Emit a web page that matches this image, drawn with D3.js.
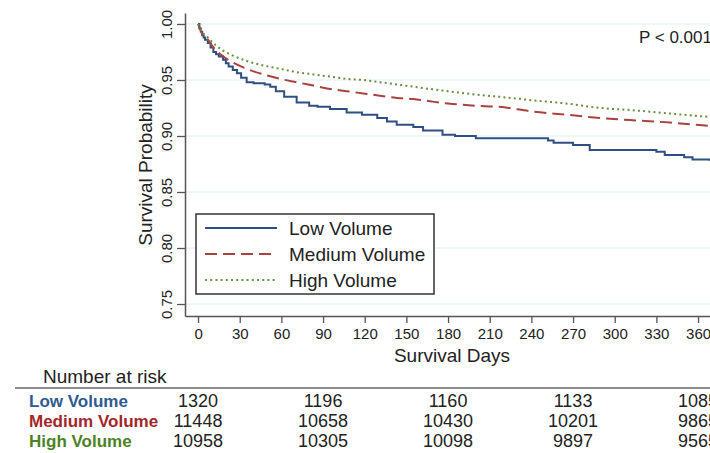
<!DOCTYPE html>
<html>
<head>
<meta charset="utf-8">
<script src="https://cdn.jsdelivr.net/npm/d3@7"></script>
<style>
  body { margin: 0; background: #fff; }
  svg text { font-family: "Liberation Sans", Arial, sans-serif; }
</style>
</head>
<body>
<svg id="chart" width="710" height="453"></svg>
<script>
// survival curves
const lowDays  = [0, 1, 2, 3, 4, 5, 7, 9, 11, 13, 15, 18, 20, 22, 25, 28, 31, 35, 40, 48, 52, 56, 62, 71, 80, 86, 95, 107, 118, 129, 136, 143, 155, 162, 176, 185, 200, 248, 252, 256, 270, 282, 330, 336, 350, 356, 368]
const lowSurv  = [1, 0.996, 0.993, 0.990, 0.988, 0.986, 0.983, 0.979, 0.975, 0.973, 0.971, 0.968, 0.965, 0.962, 0.959, 0.956, 0.952, 0.948, 0.947, 0.946, 0.944, 0.940, 0.935, 0.930, 0.927, 0.926, 0.924, 0.921, 0.919, 0.916, 0.913, 0.910, 0.908, 0.905, 0.901, 0.900, 0.898, 0.898, 0.896, 0.894, 0.892, 0.8875, 0.886, 0.883, 0.881, 0.879, 0.878]
const midDays  = [0, 3, 7, 11, 17, 23, 35, 47, 59, 71, 83, 95, 107, 119, 131, 143, 155, 167, 180, 200, 217, 240, 265, 290, 313, 340, 368]
const midSurv  = [1, 0.991, 0.986, 0.979, 0.972, 0.967, 0.960, 0.955, 0.951, 0.948, 0.945, 0.942, 0.940, 0.938, 0.936, 0.934, 0.933, 0.931, 0.929, 0.927, 0.926, 0.922, 0.919, 0.916, 0.914, 0.912, 0.909]
const highDays = [0, 3, 7, 11, 17, 23, 35, 47, 59, 71, 83, 95, 107, 119, 131, 143, 155, 167, 180, 200, 217, 240, 265, 290, 313, 340, 368]
const highSurv = [1, 0.993, 0.988, 0.983, 0.977, 0.973, 0.967, 0.963, 0.960, 0.957, 0.955, 0.953, 0.951, 0.950, 0.948, 0.946, 0.944, 0.942, 0.940, 0.937, 0.935, 0.932, 0.929, 0.925, 0.923, 0.920, 0.917]

const groups = ['Low Volume', 'Medium Volume', 'High Volume']
const xTicks = [0, 30, 60, 90, 120, 150, 180, 210, 240, 270, 300, 330, 360]
const yTicks = [0.75, 0.80, 0.85, 0.90, 0.95, 1.00]

// number at risk table
const riskDays = [0, 90, 180, 270, 360]
const riskLow  = [1320, 1196, 1160, 1133, 1085]
const riskMid  = [11448, 10658, 10430, 10201, 9865]
const riskHigh = [10958, 10305, 10098, 9897, 9565]

const lineColors = ['#2f4f82', '#a8423f', '#6a8f44']
const textColors = ['#2f5a92', '#a3262a', '#4d8226']

const svg = d3.select('#chart')

const x = d3.scaleLinear().domain([-9.4, 368.6]).range([185, 710])
const y = d3.scaleLinear().domain([0.7393, 1.0098]).range([316, 13])

// gridlines
svg.append('g')
  .selectAll('line')
  .data(yTicks)
  .join('line')
  .attr('x1', 186).attr('x2', 710)
  .attr('y1', d => y(d)).attr('y2', d => y(d))
  .attr('stroke', '#e4eef2')
  .attr('stroke-width', 1.2)

// axes
const yAxis = svg.append('g')
  .attr('transform', 'translate(185,0)')
  .call(d3.axisLeft(y).tickValues(yTicks).tickFormat(d3.format('.2f')).tickSize(8).tickSizeOuter(0))
yAxis.select('.domain').attr('stroke', '#555').attr('stroke-width', 1.5)
yAxis.selectAll('.tick line').attr('stroke', '#555').attr('stroke-width', 1.3)
yAxis.selectAll('.tick text')
  .attr('transform', 'rotate(-90)')
  .attr('x', 0).attr('y', -13)
  .attr('dy', 0)
  .attr('text-anchor', 'middle')
  .style('font-size', '15px')
  .attr('fill', '#222')

const xAxis = svg.append('g')
  .attr('transform', 'translate(0,316)')
  .call(d3.axisBottom(x).tickValues(xTicks).tickSize(7).tickSizeOuter(0))
xAxis.select('.domain').attr('stroke', '#555').attr('stroke-width', 1.5)
xAxis.selectAll('.tick line').attr('stroke', '#555').attr('stroke-width', 1.3)
xAxis.selectAll('.tick text')
  .attr('y', 12)
  .style('font-size', '15px')
  .attr('fill', '#222')

svg.append('text')
  .attr('transform', 'translate(152,165) rotate(-90)')
  .attr('text-anchor', 'middle')
  .style('font-size', '19px')
  .attr('fill', '#222')
  .text('Survival Probability')

svg.append('text')
  .attr('x', 452).attr('y', 362)
  .attr('text-anchor', 'middle')
  .style('font-size', '19px')
  .attr('fill', '#222')
  .text('Survival Days')

svg.append('text')
  .attr('x', 639).attr('y', 43)
  .style('font-size', '17px')
  .attr('fill', '#222')
  .text('P < 0.001')

// curves
const series = [
  {days: lowDays, surv: lowSurv, curve: d3.curveStepAfter, dash: null},
  {days: midDays, surv: midSurv, curve: d3.curveMonotoneX, dash: '12,6'},
  {days: highDays, surv: highSurv, curve: d3.curveMonotoneX, dash: '2,3.2'}
]

series.forEach((s, i) => {
  const pts = s.days.map((d, j) => [d, s.surv[j]])
  const line = d3.line().x(d => x(d[0])).y(d => y(d[1])).curve(s.curve)
  svg.append('path')
    .attr('d', line(pts))
    .attr('fill', 'none')
    .attr('stroke', lineColors[i])
    .attr('stroke-width', 2)
    .attr('stroke-dasharray', s.dash)
})

// legend
const legend = svg.append('g')
legend.append('rect')
  .attr('x', 196).attr('y', 214)
  .attr('width', 238).attr('height', 80)
  .attr('fill', '#fff')
  .attr('stroke', '#333')
  .attr('stroke-width', 1.5)

legend.selectAll('g')
  .data(groups)
  .join('g')
  .each(function (d, i) {
    const g = d3.select(this)
    const yy = 228 + i * 26
    g.append('line')
      .attr('x1', 205).attr('x2', 277)
      .attr('y1', yy).attr('y2', yy)
      .attr('stroke', lineColors[i])
      .attr('stroke-width', 2)
      .attr('stroke-dasharray', series[i].dash)
    g.append('text')
      .attr('x', 289).attr('y', yy + 7)
      .style('font-size', '19px')
      .attr('fill', '#222')
      .text(d)
  })

// number at risk
svg.append('text')
  .attr('x', 43).attr('y', 383)
  .style('font-size', '19px')
  .attr('fill', '#222')
  .text('Number at risk')

svg.append('line')
  .attr('x1', 15).attr('x2', 710)
  .attr('y1', 388).attr('y2', 388)
  .attr('stroke', '#666')
  .attr('stroke-width', 1.5)

const riskRows = [riskLow, riskMid, riskHigh]
riskRows.forEach((row, i) => {
  const yy = 407 + i * 20
  svg.append('text')
    .attr('x', 29).attr('y', yy)
    .style('font-size', '17px')
    .style('font-weight', 'bold')
    .attr('fill', textColors[i])
    .text(groups[i])
  svg.append('g')
    .selectAll('text')
    .data(row)
    .join('text')
    .attr('x', (d, j) => x(riskDays[j]))
    .attr('y', yy)
    .attr('text-anchor', 'middle')
    .style('font-size', '18px')
    .attr('fill', '#222')
    .text(d => d)
})
</script>
</body>
</html>
